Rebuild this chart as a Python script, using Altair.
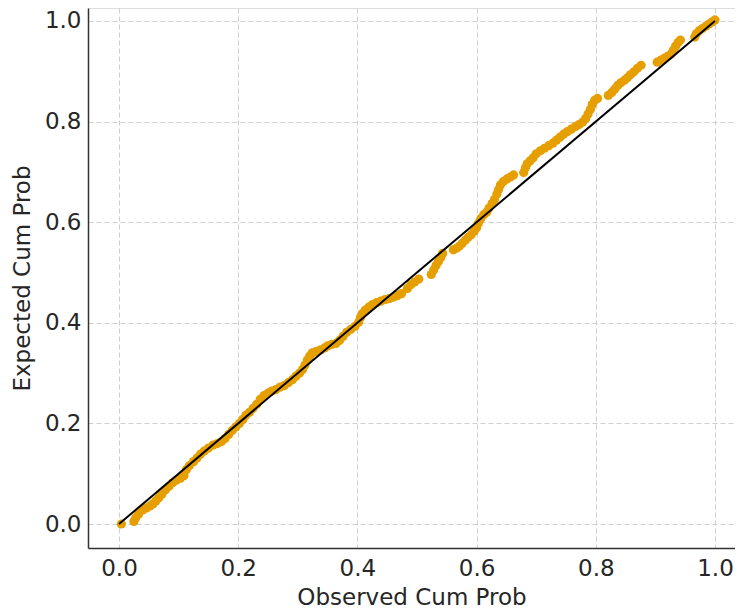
import altair as alt
import pandas as pd

observed = [
    0.004,
    0.025, 0.028, 0.033, 0.040, 0.046, 0.052, 0.057, 0.062, 0.067, 0.072, 0.078, 0.084, 0.090, 0.096,
    0.103, 0.109, 0.113, 0.118, 0.125, 0.131, 0.137, 0.143, 0.150, 0.158, 0.165, 0.172, 0.178, 0.184,
    0.190, 0.196, 0.202, 0.208, 0.213, 0.219, 0.225, 0.231, 0.237, 0.243, 0.250, 0.256, 0.263, 0.270,
    0.277, 0.284, 0.291, 0.297, 0.303, 0.308, 0.312, 0.316, 0.320, 0.324, 0.331, 0.338, 0.345, 0.350,
    0.357, 0.364, 0.370, 0.376, 0.382, 0.389, 0.396, 0.402, 0.405, 0.408, 0.413, 0.419, 0.425, 0.432,
    0.439, 0.446, 0.453, 0.460, 0.467, 0.474,
    0.484, 0.490, 0.496, 0.503,
    0.524, 0.528, 0.532, 0.536, 0.540, 0.543,
    0.561, 0.566, 0.571, 0.576, 0.581, 0.586, 0.591, 0.596, 0.600, 0.603, 0.607, 0.612, 0.617, 0.621,
    0.626, 0.630, 0.634, 0.637, 0.640, 0.645, 0.651, 0.657, 0.662,
    0.679, 0.682, 0.685, 0.690, 0.695, 0.700, 0.707, 0.714, 0.721, 0.728, 0.734, 0.740, 0.746, 0.752,
    0.759, 0.766, 0.772, 0.778, 0.783, 0.787, 0.791, 0.794, 0.798, 0.803,
    0.821, 0.827, 0.832, 0.837, 0.842, 0.848, 0.853, 0.858, 0.864, 0.870, 0.876,
    0.903, 0.909, 0.915, 0.921, 0.926, 0.930, 0.934, 0.938, 0.942,
    0.966, 0.969, 0.974, 0.979, 0.985, 0.990, 0.995, 1.000,
]
expected = [
    0.000,
    0.005, 0.012, 0.020, 0.028, 0.032, 0.036, 0.040, 0.046, 0.052, 0.059, 0.068, 0.075, 0.082, 0.087,
    0.091, 0.096, 0.108, 0.116, 0.124, 0.131, 0.139, 0.145, 0.151, 0.157, 0.160, 0.164, 0.170, 0.178,
    0.186, 0.193, 0.200, 0.208, 0.216, 0.222, 0.230, 0.238, 0.248, 0.255, 0.260, 0.264, 0.267, 0.272,
    0.275, 0.281, 0.287, 0.294, 0.300, 0.307, 0.316, 0.326, 0.334, 0.340, 0.343, 0.346, 0.350, 0.354,
    0.357, 0.359, 0.365, 0.373, 0.381, 0.387, 0.393, 0.401, 0.410, 0.418, 0.425, 0.431, 0.436, 0.440,
    0.443, 0.446, 0.448, 0.451, 0.454, 0.458,
    0.468, 0.476, 0.481, 0.487,
    0.496, 0.505, 0.514, 0.522, 0.530, 0.538,
    0.545, 0.548, 0.552, 0.558, 0.564, 0.570, 0.575, 0.582, 0.589, 0.598, 0.607, 0.615, 0.620, 0.628,
    0.637, 0.645, 0.656, 0.665, 0.674, 0.681, 0.686, 0.690, 0.694,
    0.699, 0.708, 0.716, 0.722, 0.728, 0.736, 0.742, 0.747, 0.752, 0.757, 0.763, 0.769, 0.775, 0.780,
    0.785, 0.790, 0.794, 0.799, 0.806, 0.815, 0.824, 0.834, 0.842, 0.846,
    0.852, 0.858, 0.865, 0.872, 0.877, 0.882, 0.887, 0.893, 0.899, 0.906, 0.912,
    0.918, 0.922, 0.926, 0.930, 0.934, 0.942, 0.950, 0.957, 0.962,
    0.968, 0.975, 0.981, 0.985, 0.990, 0.994, 0.998, 1.002,
]
diag = [0.0, 1.0]
ticks = [0.0, 0.2, 0.4, 0.6, 0.8, 1.0]

df = pd.DataFrame({"obs": observed, "exp": expected})
dline = pd.DataFrame({"a": diag, "b": diag})

FONT = "DejaVu Sans"
xscale = alt.Scale(domain=[-0.052, 1.0336], nice=False, zero=False)
yscale = alt.Scale(domain=[-0.0477, 1.0258], nice=False, zero=False)

grid_common = dict(
    grid=True, gridColor="#cfcfcf", gridDash=[5, 3], gridWidth=1,
    domainColor="#333333", domainWidth=1.5,
    ticks=False, values=ticks, format=".1f",
    labelFont=FONT, labelFontSize=23, labelColor="#262626",
    titleFont=FONT, titleFontSize=23, titleColor="#262626", titleFontWeight="normal",
)

xaxis = alt.Axis(title="Observed Cum Prob", labelPadding=9, titlePadding=6, labelOverlap=False, **grid_common)
yaxis = alt.Axis(title="Expected Cum Prob", labelPadding=7, titlePadding=10, **grid_common)

pts = alt.Chart(df).mark_circle(size=85, opacity=1, color="#E69F00").encode(
    x=alt.X("obs:Q", scale=xscale, axis=xaxis),
    y=alt.Y("exp:Q", scale=yscale, axis=yaxis),
)

line = alt.Chart(dline).mark_line(color="black", strokeWidth=2).encode(
    x=alt.X("a:Q", scale=xscale),
    y=alt.Y("b:Q", scale=yscale),
)

chart = (
    alt.layer(pts, line)
    .properties(
        width=647, height=540,
        autosize=alt.AutoSizeParams(type="none"),
        padding={"left": 80, "top": 0, "right": 0, "bottom": 64},
    )
    .configure_view(stroke=None, strokeWidth=0)
    .configure(background="white")
)

chart.save("out.html", embed_options={"renderer": "svg", "actions": False})
